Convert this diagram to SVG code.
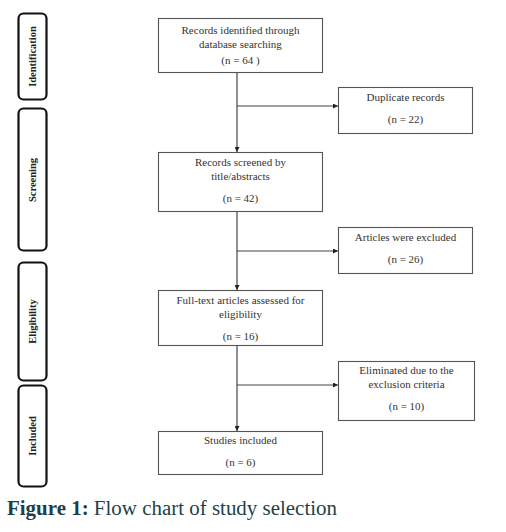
<svg xmlns="http://www.w3.org/2000/svg" width="506" height="532" viewBox="0 0 506 532">
<defs>
<marker id="ah" viewBox="0 0 10 10" refX="10" refY="5" markerWidth="5" markerHeight="5" orient="auto" markerUnits="userSpaceOnUse">
<path d="M0,0 L10,5 L0,10 z" fill="#222"/>
</marker>
<style>
.box{fill:#fff;stroke:#555;stroke-width:1.1}
.stage{fill:#fff;stroke:#111;stroke-width:2.2}
.t{font-family:"Liberation Serif","Times New Roman",serif;font-size:11px;fill:#333;text-anchor:middle}
.s{font-family:"Liberation Serif","Times New Roman",serif;font-size:10.5px;font-weight:bold;fill:#222;text-anchor:middle}
.c{stroke:#444;stroke-width:1.2;fill:none}
.cap{font-family:"Liberation Serif","DejaVu Serif",serif;font-size:20px;fill:#1f3f48}
</style>
</defs>
<rect width="506" height="532" fill="#fff"/>

<g id="stage-identification">
<rect class="stage" x="18.5" y="13.5" width="28" height="86" rx="5"/>
<text class="s" transform="translate(36,56.5) rotate(-90)">Identification</text>
</g>
<g id="stage-screening">
<rect class="stage" x="18.5" y="108.5" width="28" height="142" rx="5"/>
<text class="s" transform="translate(36,180) rotate(-90)">Screening</text>
</g>
<g id="stage-eligibility">
<rect class="stage" x="18.5" y="262.5" width="28" height="118" rx="5"/>
<text class="s" transform="translate(36,321.5) rotate(-90)">Eligibility</text>
</g>
<g id="stage-included">
<rect class="stage" x="18.5" y="385.5" width="28" height="101" rx="5"/>
<text class="s" transform="translate(36,436) rotate(-90)">Included</text>
</g>

<g id="connectors">
<line class="c" x1="237" y1="72" x2="237" y2="152" marker-end="url(#ah)"/>
<line class="c" x1="237" y1="106" x2="338" y2="106" marker-end="url(#ah)"/>
<line class="c" x1="237" y1="211" x2="237" y2="290" marker-end="url(#ah)"/>
<line class="c" x1="237" y1="251" x2="338" y2="251" marker-end="url(#ah)"/>
<line class="c" x1="237" y1="345" x2="237" y2="431" marker-end="url(#ah)"/>
<line class="c" x1="237" y1="385" x2="338" y2="385" marker-end="url(#ah)"/>
</g>

<g id="records-identified">
<rect class="box" x="158.5" y="18.5" width="164" height="54"/>
<text class="t" x="240.5" y="34">Records identified through</text>
<text class="t" x="240.5" y="48">database searching</text>
<text class="t" x="240.5" y="64">(n =  64 )</text>
</g>
<g id="duplicate-records">
<rect class="box" x="338.5" y="87.5" width="134" height="46"/>
<text class="t" x="405.5" y="101">Duplicate records</text>
<text class="t" x="405.5" y="123">(n = 22)</text>
</g>
<g id="records-screened">
<rect class="box" x="158.5" y="152.5" width="164" height="59"/>
<text class="t" x="240.5" y="166">Records screened by</text>
<text class="t" x="240.5" y="180">title/abstracts</text>
<text class="t" x="240.5" y="202">(n = 42)</text>
</g>
<g id="articles-excluded">
<rect class="box" x="338.5" y="227.5" width="134" height="46"/>
<text class="t" x="405.5" y="241">Articles were excluded</text>
<text class="t" x="405.5" y="263">(n = 26)</text>
</g>
<g id="full-text">
<rect class="box" x="158.5" y="290.5" width="164" height="55"/>
<text class="t" x="240.5" y="304">Full-text articles assessed for</text>
<text class="t" x="240.5" y="318">eligibility</text>
<text class="t" x="240.5" y="340">(n = 16)</text>
</g>
<g id="eliminated">
<rect class="box" x="338.5" y="361.5" width="136" height="59"/>
<text class="t" x="406.5" y="374">Eliminated due to the</text>
<text class="t" x="406.5" y="388">exclusion criteria</text>
<text class="t" x="406.5" y="410">(n = 10)</text>
</g>
<g id="studies-included">
<rect class="box" x="158.5" y="431.5" width="164" height="43"/>
<text class="t" x="240.5" y="444">Studies included</text>
<text class="t" x="240.5" y="466">(n = 6)</text>
</g>

<text class="cap" x="7" y="515" textLength="330" lengthAdjust="spacingAndGlyphs"><tspan font-weight="bold">Figure 1:</tspan> Flow chart of study selection</text>
</svg>
